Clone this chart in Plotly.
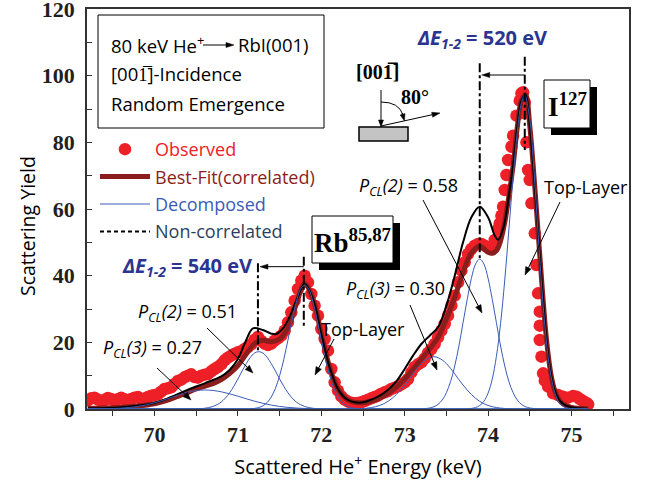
import math
import plotly.graph_objects as go

# ---------------- data ----------------
obs_E = [69.20, 69.24, 69.28, 69.32, 69.36, 69.40, 69.44, 69.48, 69.52, 69.56, 69.60, 69.64, 69.68, 69.72,
         69.76, 69.80, 69.84, 69.88, 69.92, 69.96, 70.00, 70.04, 70.08, 70.12, 70.16, 70.20, 70.24, 70.28,
         70.32, 70.36, 70.40, 70.44, 70.48, 70.52, 70.56, 70.60, 70.64, 70.68, 70.72, 70.76, 70.80, 70.84,
         70.88, 70.92, 70.96, 71.00, 71.04, 71.08, 71.12, 71.16, 71.20, 71.24, 71.28, 71.32, 71.36, 71.40,
         71.44, 71.48, 71.52, 71.56, 71.60, 71.64, 71.68, 71.72, 71.76, 71.80, 71.84, 71.88, 71.92, 71.96,
         72.00, 72.04, 72.08, 72.12, 72.16, 72.20, 72.24, 72.28, 72.32, 72.36, 72.40, 72.44, 72.48, 72.52,
         72.56, 72.60, 72.64, 72.68, 72.72, 72.76, 72.80, 72.84, 72.88, 72.92, 72.96, 73.00, 73.04, 73.08,
         73.12, 73.16, 73.20, 73.24, 73.28, 73.32, 73.36, 73.40, 73.44, 73.48, 73.52, 73.56, 73.60, 73.64,
         73.68, 73.72, 73.76, 73.80, 73.84, 73.88, 73.92, 73.96, 74.00, 74.04, 74.08, 74.12, 74.14, 74.16,
         74.18, 74.20, 74.22, 74.24, 74.28, 74.30, 74.34, 74.38, 74.40, 74.42, 74.44, 74.44, 74.46, 74.48,
         74.50, 74.52, 74.56, 74.58, 74.60, 74.62, 74.62, 74.62, 74.64, 74.66, 74.68, 74.72, 74.78, 74.84,
         74.90, 74.96, 75.02, 75.06, 75.10, 75.14, 75.18, 75.20]
obs_Y = [2.6, 3.2, 3.4, 2.8, 2.5, 2.7, 3.3, 3.0, 2.6, 2.9, 3.4, 2.9, 2.6, 3.0,
         3.4, 3.6, 3.0, 3.1, 3.6, 4.0, 4.2, 4.4, 5.2, 6.0, 6.2, 6.5, 7.5, 8.4,
         8.8, 9.5, 10.0, 10.4, 9.6, 9.4, 10.0, 10.3, 10.5, 11.3, 12.0, 12.6, 13.4, 14.6,
         15.4, 16.0, 16.6, 17.0, 17.3, 18.0, 18.6, 19.4, 20.8, 21.6, 20.4, 19.6, 19.2, 19.6,
         20.5, 21.2, 22.0, 23.5, 26.0, 29.0, 32.5, 36.0, 38.5, 40.0, 38.0, 34.5, 31.0, 28.0,
         24.0, 21.0, 17.5, 12.0, 8.0, 5.5, 3.8, 2.8, 2.2, 1.9, 1.7, 1.8, 2.0, 2.4,
         2.8, 3.2, 3.6, 4.0, 4.6, 5.0, 5.4, 6.0, 6.4, 6.8, 7.4, 8.0, 9.0, 11.0,
         12.6, 13.4, 14.0, 15.2, 16.8, 18.0, 19.5, 21.5, 23.5, 25.5, 28.0, 31.0, 34.0, 38.0,
         41.5, 44.0, 46.5, 48.0, 49.0, 49.5, 49.5, 49.0, 48.5, 48.0, 50.7, 54.0, 55.7, 58.0,
         60.7, 65.7, 70.2, 74.7, 78.7, 82.0, 88.0, 92.5, 94.7, 95.0, 92.0, 88.7, 80.0, 71.7,
         68.7, 61.7, 52.7, 43.2, 34.7, 29.2, 25.0, 20.7, 15.7, 10.7, 8.5, 6.7, 4.7, 4.2,
         3.7, 3.4, 3.9, 3.7, 3.0, 2.4, 1.8, 1.4]

fit_E = [69.2, 69.4, 69.6, 69.8, 70.0, 70.1, 70.2, 70.3, 70.4, 70.5, 70.6, 70.7, 70.8, 70.9, 71.0,
         71.1, 71.2, 71.3, 71.4, 71.5, 71.6, 71.7, 71.8, 71.9, 72.0, 72.1, 72.2, 72.3, 72.4, 72.5,
         72.6, 72.7, 72.8, 72.9, 73.0, 73.1, 73.2, 73.3, 73.4, 73.5, 73.6, 73.7, 73.8, 73.9, 74.0,
         74.05, 74.1, 74.15, 74.2, 74.25, 74.3, 74.35, 74.4, 74.45, 74.5, 74.55, 74.6, 74.65, 74.7,
         74.75, 74.8, 74.85, 74.9, 75.0, 75.1, 75.2]
fit_Y = [0.2, 0.3, 0.5, 0.9, 1.6, 2.2, 3.0, 4.0, 5.0, 6.0, 6.8, 7.6, 8.8, 10.6, 13.0,
         16.5, 19.6, 20.6, 20.2, 21.0, 24.3, 31.5, 37.5, 33.0, 22.5, 12.5, 6.0, 3.0, 2.0, 1.9,
         2.4, 3.3, 4.7, 6.6, 9.0, 12.0, 15.0, 18.0, 21.5, 27.0, 33.5, 41.0, 46.8, 48.8, 47.0,
         46.7, 47.5, 50.5, 56.0, 64.0, 73.0, 84.5, 92.5, 94.2, 85.0, 70.0, 53.0, 36.0, 21.0,
         11.0, 5.5, 2.8, 1.5, 0.5, 0.2, 0.1]

nc_E = [69.2, 69.6, 70.0, 70.2, 70.4, 70.6, 70.8, 70.9, 71.0, 71.1, 71.18, 71.3, 71.4, 71.46,
        71.55, 71.62, 71.7, 71.8, 71.9, 72.0, 72.1, 72.2, 72.3, 72.4, 72.5, 72.6, 72.7, 72.8,
        72.9, 73.0, 73.1, 73.2, 73.3, 73.4, 73.5, 73.6, 73.7, 73.8, 73.9, 74.0, 74.08, 74.12,
        74.18, 74.25, 74.3, 74.35, 74.4, 74.45, 74.5, 74.55, 74.6, 74.65, 74.7, 74.75, 74.8,
        74.85, 74.9, 75.0, 75.1, 75.2]
nc_Y = [0.2, 0.5, 1.8, 3.6, 5.8, 7.7, 9.8, 11.7, 15.0, 20.7, 24.2, 23.7, 22.6, 22.5,
        24.5, 27.7, 32.5, 37.5, 33.0, 22.5, 12.5, 6.0, 3.0, 2.0, 2.0, 2.8, 4.0, 5.8,
        8.3, 12.0, 16.0, 19.5, 22.0, 24.5, 31.0, 40.0, 50.0, 57.5, 60.7, 57.5, 52.0, 50.8,
        54.0, 64.2, 73.0, 84.5, 92.5, 94.2, 85.0, 70.0, 53.0, 36.0, 21.0, 11.0, 5.5,
        2.8, 1.5, 0.5, 0.2, 0.1]

# decomposed components
rb3_E = [69.2, 69.3, 69.4, 69.5, 69.6, 69.7, 69.8, 69.9, 70.0, 70.1, 70.2, 70.3, 70.4, 70.5, 70.6,
         70.7, 70.8, 70.9, 71.0, 71.1, 71.2, 71.3, 71.4, 71.5, 71.6, 71.7, 71.8, 71.9, 72.0, 72.1,
         72.2, 72.3, 75.2]
rb3_Y = [0.01, 0.03, 0.06, 0.13, 0.25, 0.45, 0.77, 1.23, 1.85, 2.61, 3.46, 4.30, 5.03, 5.52, 5.70,
         5.56, 5.16, 4.56, 3.84, 3.07, 2.34, 1.70, 1.17, 0.77, 0.48, 0.29, 0.16, 0.09, 0.05, 0.02,
         0.01, 0.0, 0.0]

rb2_E = [69.2, 70.35, 70.45, 70.55, 70.60, 70.65, 70.70, 70.75, 70.80, 70.85, 70.90, 70.95, 71.00,
         71.05, 71.10, 71.15, 71.20, 71.25, 71.30, 71.35, 71.40, 71.45, 71.50, 71.55, 71.60, 71.65,
         71.70, 71.75, 71.80, 71.85, 71.90, 71.95, 72.05, 72.15, 75.2]
rb2_Y = [0.0, 0.0, 0.02, 0.11, 0.22, 0.42, 0.76, 1.3, 2.1, 3.3, 4.85, 6.8, 9.0,
         11.4, 13.6, 15.5, 16.8, 17.2, 16.8, 15.5, 13.6, 11.4, 9.0, 6.8, 4.85, 3.3,
         2.1, 1.3, 0.76, 0.42, 0.22, 0.11, 0.02, 0.0, 0.0]

rb1_E = [69.2, 71.00, 71.10, 71.15, 71.20, 71.25, 71.30, 71.35, 71.40, 71.45, 71.50, 71.55, 71.60,
         71.65, 71.70, 71.75, 71.80, 71.85, 71.90, 71.95, 72.00, 72.05, 72.10, 72.15, 72.20, 72.25,
         72.30, 72.35, 72.40, 72.45, 72.50, 72.60, 75.2]
rb1_Y = [0.0, 0.0, 0.03, 0.08, 0.19, 0.45, 0.96, 1.93, 3.6, 6.2, 10.0, 14.9, 20.7,
         26.8, 32.1, 35.9, 37.2, 35.9, 32.1, 26.8, 20.7, 14.9, 10.0, 6.2, 3.6, 1.93,
         0.96, 0.45, 0.19, 0.08, 0.03, 0.0, 0.0]

i3_E = [69.2, 72.25, 72.35, 72.45, 72.55, 72.65, 72.75, 72.85, 72.95, 73.05, 73.15, 73.25, 73.35,
        73.45, 73.55, 73.65, 73.75, 73.85, 73.95, 74.05, 74.15, 74.25, 74.35, 74.45, 75.2]
i3_Y = [0.0, 0.0, 0.03, 0.09, 0.27, 0.69, 1.58, 3.2, 5.7, 8.8, 12.2, 14.7, 15.7,
        14.7, 12.2, 8.8, 5.7, 3.2, 1.58, 0.69, 0.27, 0.09, 0.03, 0.0, 0.0]

i2_E = [69.2, 73.10, 73.15, 73.20, 73.25, 73.30, 73.35, 73.40, 73.45, 73.50, 73.55, 73.60, 73.65,
        73.70, 73.75, 73.80, 73.85, 73.90, 73.95, 74.00, 74.05, 74.10, 74.15, 74.20, 74.25, 74.30,
        74.35, 74.40, 74.45, 74.50, 74.55, 74.60, 74.65, 74.70, 75.2]
i2_Y = [0.0, 0.0, 0.02, 0.05, 0.13, 0.31, 0.68, 1.4, 2.7, 4.9, 8.2, 12.9, 18.9,
        25.9, 32.9, 39.2, 43.5, 45.0, 43.5, 39.2, 32.9, 25.9, 18.9, 12.9, 8.2, 4.9,
        2.7, 1.4, 0.68, 0.31, 0.13, 0.05, 0.02, 0.0, 0.0]

i1_E = [69.2, 73.55, 73.65, 73.70, 73.75, 73.80, 73.85, 73.90, 73.95, 74.00, 74.05, 74.10, 74.15,
        74.20, 74.25, 74.30, 74.35, 74.40, 74.44, 74.50, 74.55, 74.60, 74.65, 74.70, 74.75, 74.80,
        74.85, 74.90, 74.95, 75.00, 75.05, 75.10, 75.2]
i1_Y = [0.0, 0.0, 0.01, 0.02, 0.06, 0.17, 0.44, 1.05, 2.32, 4.75, 9.0, 15.8, 25.7,
        38.7, 54.0, 69.6, 83.1, 91.9, 94.2, 86.8, 71.5, 52.5, 34.4, 20.1, 10.5, 4.9,
        2.0, 0.75, 0.25, 0.07, 0.02, 0.0, 0.0]

# peak positions (keV) used for the energy-shift markers
rb_top_E, rb_pcl2_E = 71.79, 71.24
i_top_E, i_pcl2_E = 74.44, 73.90

x_ticks = [70, 71, 72, 73, 74, 75]
y_ticks = [0, 20, 40, 60, 80, 100, 120]
X_RANGE = [69.19, 75.69]
Y_RANGE = [0, 120]

# ---------------- styling helpers ----------------
L, R, T, B = 87, 19, 9, 76
W, H = 648, 485
PW, PH = W - L - R, H - T - B

def P(xp, yp):
    return (xp - L) / PW, (H - B - yp) / PH

def D2px(e, y):
    return (L + (e - X_RANGE[0]) / (X_RANGE[1] - X_RANGE[0]) * PW,
            H - B - (y - Y_RANGE[0]) / (Y_RANGE[1] - Y_RANGE[0]) * PH)

SANS = "Open Sans"
SERIF = "Liberation Serif"
NAVY = "#2b3590"
RED = "#ee2027"
DRED = "#8c1d1d"
BLUE = "#3a5cb8"

fig = go.Figure()

fig.add_trace(go.Scatter(x=obs_E, y=obs_Y, mode="markers",
                         marker=dict(color=RED, size=12.5, line=dict(width=0)),
                         name=f"<span style='color:{RED}'>Observed</span>", legendgroup="a"))
fig.add_trace(go.Scatter(x=fit_E, y=fit_Y, mode="lines", line=dict(color=DRED, width=5, shape="spline"),
                         name=f"<span style='color:{DRED}'>Best-Fit(correlated)</span>", legendgroup="b"))
fig.add_trace(go.Scatter(x=nc_E, y=nc_Y, mode="lines", line=dict(color="black", width=2, shape="spline"),
                         showlegend=False))
first = True
for xs, ys in [(rb3_E, rb3_Y), (rb2_E, rb2_Y), (rb1_E, rb1_Y), (i3_E, i3_Y), (i2_E, i2_Y), (i1_E, i1_Y)]:
    fig.add_trace(go.Scatter(x=xs, y=ys, mode="lines", line=dict(color=BLUE, width=1, shape="spline"),
                             name=f"<span style='color:{BLUE}'>Decomposed</span>", legendgroup="c",
                             showlegend=first))
    first = False
fig.add_trace(go.Scatter(x=[None], y=[None], mode="lines", line=dict(color="black", width=2, dash="4px,3px"),
                         name="Non-correlated", legendgroup="d"))

shapes = []
annos = []

def ptext(xp, yp, s, size=18, color="black", family=SANS, xanchor="center"):
    x, y = P(xp, yp)
    annos.append(dict(x=x, y=y, xref="paper", yref="paper", text=s, showarrow=False,
                      xanchor=xanchor, yanchor="middle", font=dict(family=family, size=size, color=color)))

def parrow(x0, y0, x1, y1, hl=8, hw=3, lw=1, dash="solid"):
    dx, dy = x1 - x0, y1 - y0
    n = math.hypot(dx, dy)
    ux, uy = dx / n, dy / n
    bx, by = x1 - ux * hl, y1 - uy * hl
    a, b = P(x0, y0)
    c, d = P(bx, by)
    shapes.append(dict(type="line", xref="paper", yref="paper", x0=a, y0=b, x1=c, y1=d,
                       line=dict(color="black", width=lw, dash=dash)))
    p1 = P(x1, y1)
    p2 = P(bx - uy * hw, by + ux * hw)
    p3 = P(bx + uy * hw, by - ux * hw)
    shapes.append(dict(type="path", xref="paper", yref="paper",
                       path=f"M {p1[0]},{p1[1]} L {p2[0]},{p2[1]} L {p3[0]},{p3[1]} Z",
                       fillcolor="black", line=dict(color="black", width=0.5)))

def prect(x0, y0, x1, y1, fill="white", lw=1):
    a, b = P(x0, y1)
    c, d = P(x1, y0)
    shapes.append(dict(type="rect", xref="paper", yref="paper", x0=a, y0=b, x1=c, y1=d,
                       fillcolor=fill, line=dict(color="black", width=lw)))

# top-left info box
prect(98, 15, 324, 128, fill="rgba(255,255,255,0)")
ptext(109, 44, "80 keV He<sup>+</sup>", size=18.5, xanchor="left")
parrow(203, 45, 234, 45, hl=8, hw=2.5)
ptext(236, 44, "RbI(001)", size=18.5, xanchor="left")
ptext(109, 73, "[001\u0305]-Incidence", size=18.5, xanchor="left")
ptext(109, 103, "Random Emergence", size=18.5, xanchor="left")

# element labels with shadow
prect(319, 223, 400, 270, fill="black", lw=0)
prect(312, 216, 393, 263, fill="white", lw=1)
ptext(352, 241, "<b>Rb<sup>85,87</sup></b>", size=27, family=SERIF)
prect(551, 87, 597, 135, fill="black", lw=0)
prect(544, 80, 590, 128, fill="white", lw=1)
ptext(567, 105, "<b>I<sup>127</sup></b>", size=27, family=SERIF)

# sample geometry sketch
prect(359, 127, 408, 141, fill="#c4c4c4", lw=1.5)
parrow(381, 90, 381, 127, hl=7, hw=2.5)
parrow(381, 126, 440, 113, hl=8, hw=2.5)
ax0, ay0 = P(381, 102)
axc, ayc = P(399, 102)
ax1, ay1 = P(403, 115)
shapes.append(dict(type="path", xref="paper", yref="paper",
                   path=f"M {ax0},{ay0} Q {axc},{ayc} {ax1},{ay1}", line=dict(color="black", width=1)))
parrow(402.2, 113, 404.5, 121, hl=7, hw=2.5)
ptext(377, 72, "<b>[001\u0305]</b>", size=20, family=SERIF)
ptext(415, 97, "<b>80\u00b0</b>", size=20, family=SERIF)

# peak-shift markers (positions from data values)
for xe, y0, y1 in [(rb_top_E, 45.7, 24.7), (rb_pcl2_E, 43.7, 16.7), (i_top_E, 105.7, 77.7), (i_pcl2_E, 103.7, 45.3)]:
    shapes.append(dict(type="line", xref="x", yref="y", x0=xe, x1=xe, y0=y0, y1=y1,
                       line=dict(color="black", width=2, dash="dashdot")))
for xa, xb, yl in [(rb_top_E, rb_pcl2_E, 42.7), (i_top_E, i_pcl2_E, 100.2)]:
    t0 = D2px(xa, yl)
    t1 = D2px(xb, yl)
    parrow(t0[0], t0[1], t1[0] + 2, t1[1], hl=8, hw=2.5)
ptext(187, 266, "<b><i>\u0394E</i><sub><i>1-2</i></sub> = 540 eV</b>", size=20, color=NAVY)
ptext(482, 39, "<b><i>\u0394E</i><sub><i>1-2</i></sub> = 520 eV</b>", size=20, color=NAVY)

# component labels
PCL = "<i>P</i><sub><i>CL</i></sub><i>({})</i> = {}"
ptext(152, 348, PCL.format(3, "0.27"))
parrow(157, 368, 191, 400)
ptext(187, 312, PCL.format(2, "0.51"))
parrow(207, 328, 253, 373)
ptext(363, 329, "Top-Layer")
parrow(334, 339, 315, 375)
ptext(395, 289, PCL.format(3, "0.30"))
parrow(410, 305, 437, 370)
ptext(409, 187, PCL.format(2, "0.58"))
parrow(423, 200, 482, 313)
ptext(586, 187, "Top-Layer")
parrow(560, 202, 525, 275)

# y-axis title
yx, yy = P(27, 226)
annos.append(dict(x=yx, y=yy, xref="paper", yref="paper", text="Scattering Yield", textangle=-90,
                  showarrow=False, xanchor="center", yanchor="middle",
                  font=dict(family=SANS, size=19.5, color="black")))

lx, ly = P(95, 131)
fig.update_layout(
    width=W, height=H, margin=dict(l=L, r=R, t=T, b=B, autoexpand=False),
    plot_bgcolor="white", paper_bgcolor="white",
    shapes=shapes, annotations=annos,
    legend=dict(x=lx, y=ly, xanchor="left", yanchor="top", bgcolor="rgba(0,0,0,0)",
                font=dict(family=SANS, size=18), itemwidth=50, tracegroupgap=1,
                traceorder="grouped"),
    xaxis=dict(range=X_RANGE, tickvals=x_ticks, showline=True, linecolor="#333", linewidth=1.5,
               mirror=True, ticks="outside", ticklen=5, tickwidth=1.2, tickcolor="#333",
               minor=dict(dtick=0.5, tick0=69.5, ticks="outside", ticklen=5, tickwidth=1.2, tickcolor="#333"),
               showgrid=False, zeroline=False, layer="below traces", ticklabeloverflow="allow",
               tickfont=dict(family=SERIF, size=22, color="#231f20", weight="bold"),
               title=dict(text="Scattered He<sup>+</sup> Energy (keV)", standoff=14,
                          font=dict(family=SANS, size=20, color="black"))),
    yaxis=dict(range=Y_RANGE, tickvals=y_ticks, showline=True, linecolor="#333", linewidth=1.5,
               mirror=True, ticks="inside", ticklen=5, tickwidth=1.2, tickcolor="#333",
               minor=dict(dtick=10, ticks="inside", ticklen=5, tickwidth=1.2, tickcolor="#333"),
               showgrid=False, zeroline=False, layer="below traces", ticklabelstandoff=6,
               ticklabeloverflow="allow",
               tickfont=dict(family=SERIF, size=22, color="#231f20", weight="bold")),
)

fig.write_html("out.html", config={"displayModeBar": False},
               post_script="document.body.style.margin='0';document.body.style.padding='0';")
